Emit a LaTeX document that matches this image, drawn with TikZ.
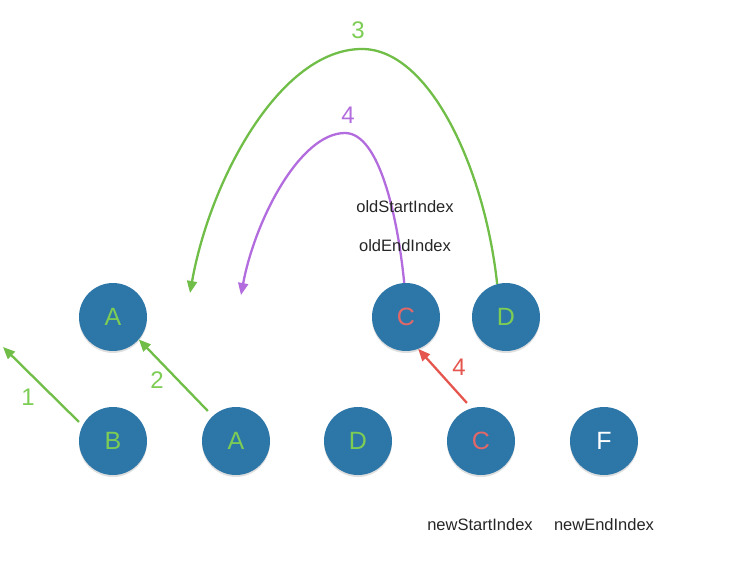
\documentclass[tikz,border=0pt]{standalone}
\usepackage{fontspec}
\setmainfont{Liberation Sans}
\usetikzlibrary{arrows.meta,shadows}
\definecolor{ballblue}{RGB}{45,118,168}
\definecolor{lgreen}{RGB}{112,190,72}
\definecolor{tgreen}{RGB}{125,205,85}
\definecolor{lpurple}{RGB}{178,108,222}
\definecolor{lred}{RGB}{228,86,78}
\definecolor{tred}{RGB}{226,104,104}
\tikzset{
  ball/.style={circle,fill=ballblue,minimum size=68pt,inner sep=0pt,
    font=\fontsize{25}{25}\selectfont,
    drop shadow={shadow xshift=0pt,shadow yshift=-2pt,opacity=0.25}},
  conn/.style={line width=2.3pt,-{Triangle[length=12pt,width=10pt]}},
  num/.style={font=\fontsize{24}{24}\selectfont,inner sep=0pt},
  idx/.style={font=\fontsize{16.5}{16.5}\selectfont,inner sep=0pt,text=black!85}
}
\begin{document}
\begin{tikzpicture}[x=1pt,y=-1pt]
\useasboundingbox (0,0) rectangle (732,563);
% top row
\node[ball,text=tgreen] (A1) at (113,317) {A};
\node[ball,text=tred]   (C1) at (406,317) {C};
\node[ball,text=tgreen] (D1) at (506,317) {D};
% bottom row
\node[ball,text=tgreen] (B2) at (113,441) {B};
\node[ball,text=tgreen] (A2) at (236,441) {A};
\node[ball,text=tgreen] (D2) at (358,441) {D};
\node[ball,text=tred]   (C2) at (481,441) {C};
\node[ball,text=white]  (F2) at (604,441) {F};
% free ends
\coordinate (e1) at (3,347);
\coordinate (g3top) at (362,49);
\coordinate (g3end) at (190,293);
\coordinate (p4top) at (345,133);
\coordinate (p4end) at (241,295);
% straight arrows
\draw[conn,lgreen,shorten <=5pt] (B2.153) -- (e1);
\draw[conn,lgreen,shorten <=7pt] (A2.133) -- (A1.-41);
\draw[conn,lred,shorten <=7pt] (C2.106) -- (C1.-69);
% arcs
\draw[conn,lgreen] (D1.105) .. controls (485,170) and (430,49) .. (g3top)
   .. controls (280,49) and (210,180) .. (g3end);
\draw[conn,lpurple] (C1.93) .. controls (398,220) and (380,133) .. (p4top)
   .. controls (300,133) and (255,220) .. (p4end);
% labels
\node[num,text=tgreen] (n1) at (28,397) {1};
\node[num,text=tgreen] (n2) at (157,380) {2};
\node[num,text=tgreen] (n3) at (358,30) {3};
\node[num,text=lpurple] (n4a) at (348,115) {4};
\node[num,text=lred] (n4b) at (459,367) {4};
\node[idx] (os) at (405,207) {oldStartIndex};
\node[idx] (oe) at (405,246) {oldEndIndex};
\node[idx] (ns) at (480,525) {newStartIndex};
\node[idx] (ne) at (604,525) {newEndIndex};
\end{tikzpicture}
\end{document}
